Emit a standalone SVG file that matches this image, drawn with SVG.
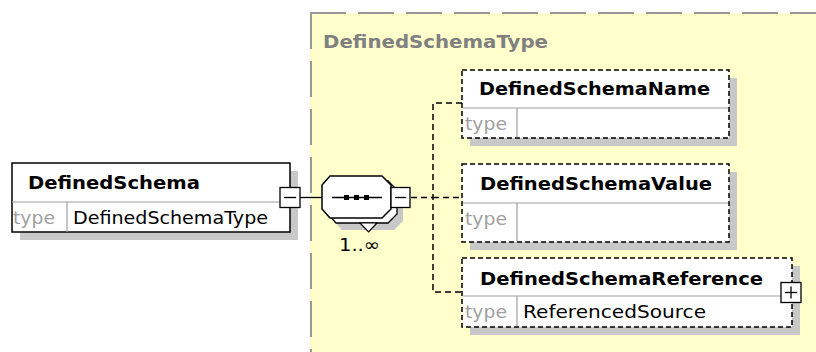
<svg xmlns="http://www.w3.org/2000/svg" width="816" height="352" viewBox="0 0 816 352">
  <style>
    text { font-family: "DejaVu Sans", "Liberation Sans", sans-serif; font-size: 18px; }
    .name { font-weight: bold; fill: #000; }
    .typelbl { fill: #a0a0a0; }
    .typeval { fill: #000; }
    .title { font-weight: bold; fill: #808080; }
    .card { fill: #fff; stroke: #000; stroke-width: 1.5; }
    .opt { fill: #fff; stroke: #000; stroke-width: 1.5; stroke-dasharray: 5 3; }
    .shadow { fill: #c8c8c8; }
    .div { stroke: #a0a0a0; stroke-width: 1.2; fill: none; }
    .btn { fill: #fff; stroke: #000; stroke-width: 1.3; }
    .solid { stroke: #000; stroke-width: 1.3; fill: none; }
    .dash { stroke: #000; stroke-width: 1.5; fill: none; stroke-dasharray: 6 4; }
  </style>

  <rect width="816" height="352" fill="#fff"/>

  <!-- complex type area -->
  <g id="DefinedSchemaType">
    <rect x="310" y="13" width="506" height="339" fill="#ffffcc"/>
    <line x1="310" y1="13" x2="816" y2="13" stroke="#999" stroke-width="2" stroke-dasharray="36 12"/>
    <line x1="311" y1="13" x2="311" y2="352" stroke="#999" stroke-width="2" stroke-dasharray="36 12"/>
    <text class="title" x="323" y="48" textLength="225" lengthAdjust="spacingAndGlyphs">DefinedSchemaType</text>
  </g>

  <!-- connectors -->
  <g id="connectors">
    <line class="solid" x1="300" y1="197.5" x2="322" y2="197.5"/>
    <line class="dash" x1="411" y1="197.5" x2="433" y2="197.5"/>
    <polyline class="dash" points="462,103 433,103 433,292 462,292"/>
    <line class="dash" x1="433" y1="197.5" x2="462" y2="197.5"/>
  </g>

  <!-- root element -->
  <g id="DefinedSchema">
    <rect class="shadow" x="20" y="171" width="278" height="69"/>
    <rect class="card" x="12" y="163" width="278" height="69"/>
    <line class="div" x1="12" y1="202" x2="290" y2="202"/>
    <line class="div" x1="67" y1="202" x2="67" y2="232"/>
    <text class="name" x="28" y="189" textLength="172" lengthAdjust="spacingAndGlyphs">DefinedSchema</text>
    <text class="typelbl" x="13" y="224" textLength="42" lengthAdjust="spacingAndGlyphs">type</text>
    <text class="typeval" x="73" y="224" textLength="195" lengthAdjust="spacingAndGlyphs">DefinedSchemaType</text>
    <rect class="btn" x="280" y="187.5" width="20" height="20"/>
    <line class="solid" x1="284" y1="197.5" x2="296" y2="197.5"/>
  </g>

  <!-- sequence compositor, 1..unbounded -->
  <g id="sequence">
    <polygon class="shadow" points="342,188 394,188 403,197 403,221 394,230 342,230 334,221 334,197"/>
    <polygon fill="#fff" stroke="#000" stroke-width="1.3" points="336,181 388,181 397,190 397,214 388,223 336,223 328,214 328,190"/>
    <polygon fill="#fff" stroke="#000" stroke-width="1.2" points="360,223 377,223 368.5,232"/>
    <polygon fill="#fff" stroke="#000" stroke-width="1.5" points="330,176 382,176 391,185 391,209 382,218 330,218 322,209 322,185"/>
    <line class="solid" x1="332" y1="197.5" x2="382" y2="197.5"/>
    <rect x="344" y="195" width="5" height="5" fill="#000"/>
    <rect x="354" y="195" width="5" height="5" fill="#000"/>
    <rect x="364" y="195" width="5" height="5" fill="#000"/>
    <rect class="btn" x="391" y="187.5" width="19" height="20"/>
    <line class="solid" x1="395" y1="197.5" x2="406" y2="197.5"/>
    <text x="339" y="251" textLength="41" lengthAdjust="spacingAndGlyphs">1..∞</text>
  </g>

  <!-- optional child elements -->
  <g id="DefinedSchemaName">
    <rect class="shadow" x="470" y="78" width="267" height="68"/>
    <rect class="opt" x="462" y="70" width="267" height="68"/>
    <line class="div" x1="463" y1="108" x2="728" y2="108"/>
    <line class="div" x1="517" y1="108" x2="517" y2="137"/>
    <text class="name" x="479" y="95" textLength="231" lengthAdjust="spacingAndGlyphs">DefinedSchemaName</text>
    <text class="typelbl" x="465" y="130" textLength="42" lengthAdjust="spacingAndGlyphs">type</text>
  </g>

  <g id="DefinedSchemaValue">
    <rect class="shadow" x="470" y="172" width="267" height="78"/>
    <rect class="opt" x="462" y="164" width="267" height="78"/>
    <line class="div" x1="463" y1="203" x2="728" y2="203"/>
    <line class="div" x1="517" y1="203" x2="517" y2="241"/>
    <text class="name" x="480" y="190" textLength="232" lengthAdjust="spacingAndGlyphs">DefinedSchemaValue</text>
    <text class="typelbl" x="465" y="225" textLength="42" lengthAdjust="spacingAndGlyphs">type</text>
  </g>

  <g id="DefinedSchemaReference">
    <rect class="shadow" x="470" y="266" width="330" height="69"/>
    <rect class="opt" x="462" y="258" width="330" height="69"/>
    <line class="div" x1="463" y1="296" x2="791" y2="296"/>
    <line class="div" x1="517" y1="296" x2="517" y2="326"/>
    <text class="name" x="480" y="285" textLength="283" lengthAdjust="spacingAndGlyphs">DefinedSchemaReference</text>
    <text class="typelbl" x="465" y="318" textLength="42" lengthAdjust="spacingAndGlyphs">type</text>
    <text class="typeval" x="523" y="318" textLength="183" lengthAdjust="spacingAndGlyphs">ReferencedSource</text>
    <rect class="btn" x="781" y="282.5" width="20" height="20"/>
    <line class="solid" x1="785" y1="292.5" x2="797" y2="292.5"/>
    <line class="solid" x1="791" y1="286.5" x2="791" y2="298.5"/>
  </g>
</svg>
